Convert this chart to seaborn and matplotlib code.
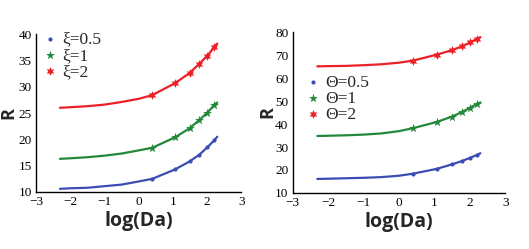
import pandas as pd
import matplotlib.pyplot as plt
import seaborn as sns

# curve sample points
x_line = [-2.3, -2.0, -1.5, -1.0, -0.5, 0.0, 0.4, 1.07, 1.49, 1.78, 2.01, 2.21, 2.3]
xi_05 = [10.6, 10.7, 10.8, 11.1, 11.4, 12.0, 12.5, 14.3, 15.8, 17.1, 18.5, 19.8, 20.5]
xi_1 = [16.3, 16.4, 16.6, 16.9, 17.3, 17.9, 18.4, 20.4, 22.1, 23.7, 25.1, 26.5, 27.0]
xi_2 = [26.0, 26.1, 26.3, 26.6, 27.1, 27.7, 28.4, 30.7, 32.6, 34.4, 35.9, 37.5, 38.2]

th_05 = [16.1, 16.2, 16.4, 16.6, 16.9, 17.5, 18.4, 20.5, 22.4, 23.9, 25.3, 26.6, 27.3]
th_1 = [34.8, 34.9, 35.1, 35.4, 35.9, 36.9, 38.2, 40.9, 43.2, 45.2, 47.1, 48.8, 49.4]
th_2 = [65.1, 65.2, 65.3, 65.6, 66.0, 66.7, 67.6, 70.2, 72.1, 73.8, 75.5, 77.1, 77.8]

# marker positions = points 6..11 of the curves
mk = slice(6, 12)

labels_xi = ['\u03be=0.5', '\u03be=1', '\u03be=2']
labels_th = ['\u0398=0.5', '\u0398=1', '\u0398=2']
colors = ['#3b4db3', '#23883a', '#ec2027']
markers = ['o', '*', (6, 1, 0)]
msizes = [9, 45, 40]

sns.set_style('white')
plt.rcParams['font.family'] = ['Liberation Serif', 'DejaVu Serif']

fig = plt.figure(figsize=(5.29, 2.49), dpi=100)
ax1 = fig.add_axes([0.068, 0.229, 0.388, 0.634])
ax2 = fig.add_axes([0.553, 0.225, 0.402, 0.646])


def draw(ax, series, labels, ylim, yticks, ylab_x):
    for ys, lab, c, m, s in zip(series, labels, colors, markers, msizes):
        df = pd.DataFrame({'x': x_line, 'y': ys})
        sns.lineplot(data=df, x='x', y='y', ax=ax, color=c, lw=1.6, legend=False)
        sns.scatterplot(data=df.iloc[mk], x='x', y='y', ax=ax, color=c, marker=m,
                        s=s, linewidth=0, label=lab, zorder=3)
    ax.set_xlim(-3, 3)
    ax.set_ylim(*ylim)
    ax.set_xticks(range(-3, 4))
    ax.set_xticklabels(['\u22123', '\u22122', '\u22121', '0', '1', '2', '3'])
    ax.set_yticks(yticks)
    ax.tick_params(direction='in', length=3, width=0.8, labelsize=9.5, pad=3, colors='black')
    for sp in ['top', 'right']:
        ax.spines[sp].set_visible(False)
    for sp in ['left', 'bottom']:
        ax.spines[sp].set_color('black')
        ax.spines[sp].set_linewidth(1.0)
    ax.set_xlabel('log(Da)', family='Open Sans', weight='bold', fontsize=14, labelpad=2)
    ax.set_ylabel('R', family='Open Sans', weight='bold', fontsize=13)
    ax.yaxis.set_label_coords(ylab_x, 0.5)


draw(ax1, [xi_05, xi_1, xi_2], labels_xi, (10, 40), range(10, 41, 5), -0.09)
draw(ax2, [th_05, th_1, th_2], labels_th, (10, 80), range(10, 81, 10), -0.075)

ax1.legend(loc='upper left', bbox_to_anchor=(0.0, 1.06), frameon=False, fontsize=12.5,
           handletextpad=0.3, handlelength=0.8, labelspacing=0.0, borderaxespad=0,
           markerscale=1.0)
ax2.legend(loc='upper left', bbox_to_anchor=(0.03, 0.78), frameon=False, fontsize=12.5,
           handletextpad=0.3, handlelength=0.8, labelspacing=0.0, borderaxespad=0,
           markerscale=1.0)

fig.savefig('out.png', dpi=100)
